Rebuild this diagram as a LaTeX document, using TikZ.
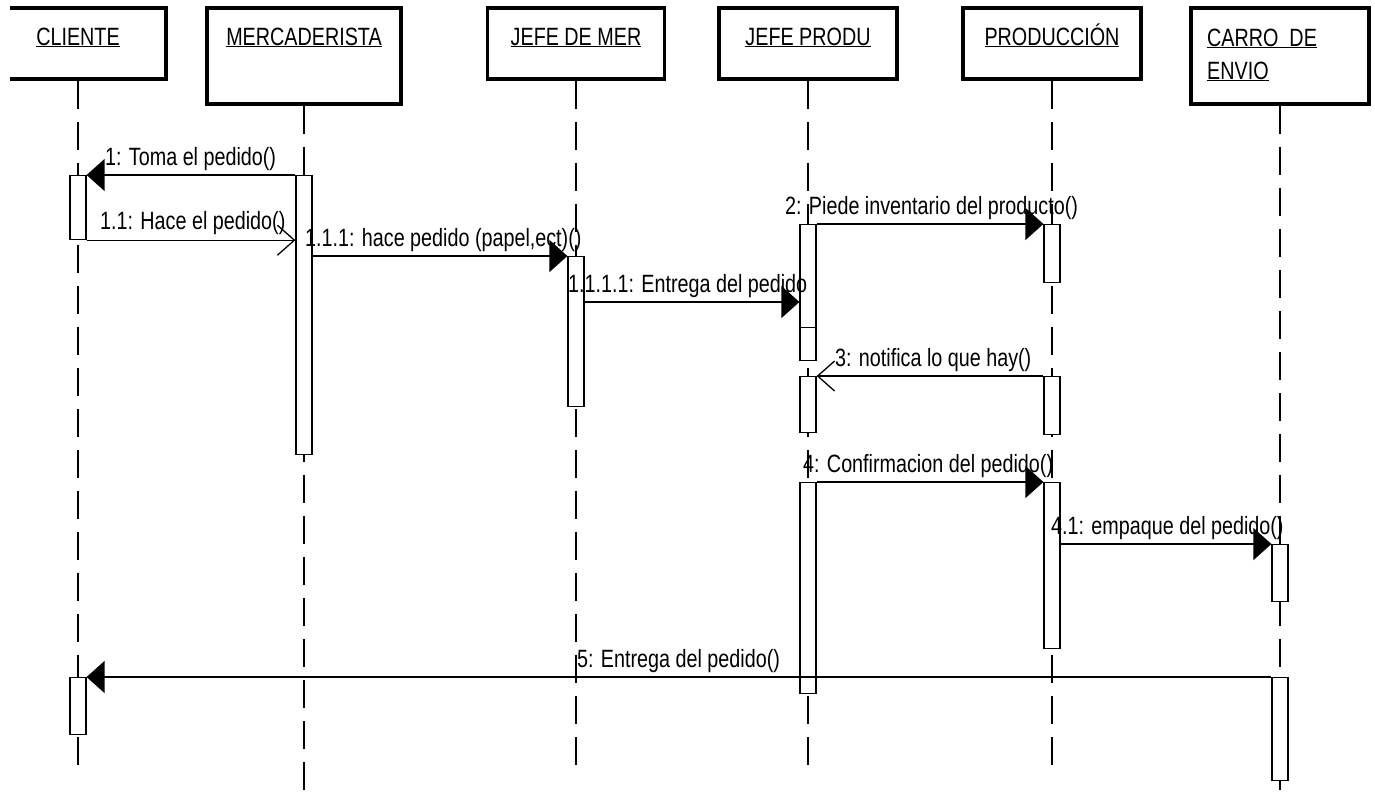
\documentclass[tikz,border=0pt]{standalone}
\usepackage{fontspec}
\setmainfont{Liberation Sans}
\usepackage{tikz}
\usetikzlibrary{arrows.meta}
\usetikzlibrary{positioning}
\newcommand{\nar}[1]{\scalebox{0.79}[1]{#1}}
\tikzset{
	headbox/.style={rectangle, draw=black, line width=3.5pt, inner sep=0pt, minimum height=71pt},
	headtxt/.style={anchor=base, inner sep=0pt, font=\fontsize{25}{29}\selectfont},
	act/.style={rectangle, draw=black, fill=white, line width=1.2pt, inner sep=0pt, minimum width=16pt, anchor=north}
}
\tikzset{
	lifeline/.style={line width=1.2pt, dash pattern=on 28pt off 13pt},
	call/.style={-{Triangle[length=18pt,width=32pt]}, line width=1.3pt},
	reply/.style={-{Straight Barb[length=17pt,width=30pt]}, line width=1.3pt},
	msg/.style={anchor=base west, inner sep=0pt, font=\fontsize{25}{29}\selectfont}
}

\begin{document}
\begin{tikzpicture}[x=1pt, y=-1pt]
		\useasboundingbox (0,0) rectangle (1375,793);
		\clip (10,0) rectangle (1375,793);
		
		\node[headbox, minimum width=176pt] at (78,43.5) (cli)   {};
		\node[headbox, minimum width=194pt, minimum height=96pt] at (304,56) (mer)   {};
		\node[headbox, minimum width=177pt] at (576,43.5) (jdm)   {};
		\node[headbox, minimum width=178pt] at (808,43.5) (jpr)   {};
		\node[headbox, minimum width=178pt] at (1052,43.5) (pro)   {};
		\node[headbox, minimum width=178pt, minimum height=96pt] at (1280,56) (car)   {};
		
		\node[headtxt] at (78,45) (cliT)    {\underline{\nar{CLIENTE}}};
		\node[headtxt] at (304,45) (merT)    {\underline{\nar{MERCADERISTA}}};
		\node[headtxt] at (576,45) (jdmT)    {\underline{\nar{JEFE DE MER}}};
		\node[headtxt] at (808,45) (jprT)    {\underline{\nar{JEFE PRODU}}};
		\node[headtxt] at (1052,45) (proT)    {\underline{\nar{PRODUCCIÓN}}};
		\node[headtxt, anchor=base west] at (1207,46) (carT1)    {\underline{\nar{CARRO\ \ DE}}};
		\node[headtxt, anchor=base west] at (1207,79) (carT2)    {\underline{\nar{ENVIO}}};
		
		\coordinate (bottom) at (0,770);
		\coordinate (edge) at (0,793);
		
		%Lifelines
		\draw[lifeline] (cli.south) -- (cli |- bottom);
		\draw[lifeline] (mer.south) -- (mer |- edge);
		\draw[lifeline] (jdm.south) -- (jdm |- bottom);
		\draw[lifeline] (jpr.south) -- (jpr |- bottom);
		\draw[lifeline] (pro.south) -- (pro |- bottom);
		\draw[lifeline] (car.south) -- (car |- edge);
		
		%Activations
		\node[act, minimum height=64pt] at (78,175) (c1) {};
		\node[act, minimum height=57pt] at (78,677) (c2) {};
		\node[act, minimum height=279pt] at (304,175) (m1) {};
		\node[act, minimum height=150pt] at (576,256) (j1) {};
		\node[act, minimum height=103pt] at (808,224) (p1) {};
		\node[act, minimum height=33pt] at (808,327) (p1b) {};
		\node[act, minimum height=56pt] at (808,376) (p2) {};
		\node[act, minimum height=211pt] at (808,482) (p3) {};
		\node[act, minimum height=58pt] at (1052,224) (q1) {};
		\node[act, minimum height=58pt] at (1052,376) (q2) {};
		\node[act, minimum height=166pt] at (1052,482) (q3) {};
		\node[act, minimum height=57pt] at (1280,544) (k1) {};
		\node[act, minimum height=103pt] at (1280,677) (k2) {};
		
		\coordinate (r4) at (0,302);
		
		%Messages
		\draw[call] (m1.north west) -- (c1.north east);
		\draw[reply] (c1.south east) -- (c1.south east -| m1.west);
		\draw[call] (m1.east |- j1.north) -- (j1.north west);
		\draw[call] (j1.east |- r4) -- (p1.west |- r4);
		\draw[call] (p1.north east) -- (q1.north west);
		\draw[reply] (q2.north west) -- (p2.north east);
		\draw[call] (p3.north east) -- (q3.north west);
		\draw[call] (q3.east |- k1.north) -- (k1.north west);
		\draw[call] (k2.north west) -- (c2.north east);
		
		\node[msg] at (105,165) (l1) {\nar{1: Toma el pedido()}};
		\node[msg] at (100,229) (l2) {\nar{1.1: Hace el pedido()}};
		\node[msg] at (305,246) (l3) {\nar{1.1.1: hace pedido (papel,ect)()}};
		\node[msg] at (568,292) (l4) {\nar{1.1.1.1: Entrega del pedido}};
		\node[msg] at (785,214) (l5) {\nar{2: Piede inventario del producto()}};
		\node[msg] at (835,366) (l6) {\nar{3: notifica lo que hay()}};
		\node[msg] at (803,472) (l7) {\nar{4: Confirmacion del pedido()}};
		\node[msg] at (1051,534) (l8) {\nar{4.1: empaque del pedido()}};
		\node[msg] at (577,667) (l9) {\nar{5: Entrega del pedido()}};
		
	\end{tikzpicture}
\end{document}
